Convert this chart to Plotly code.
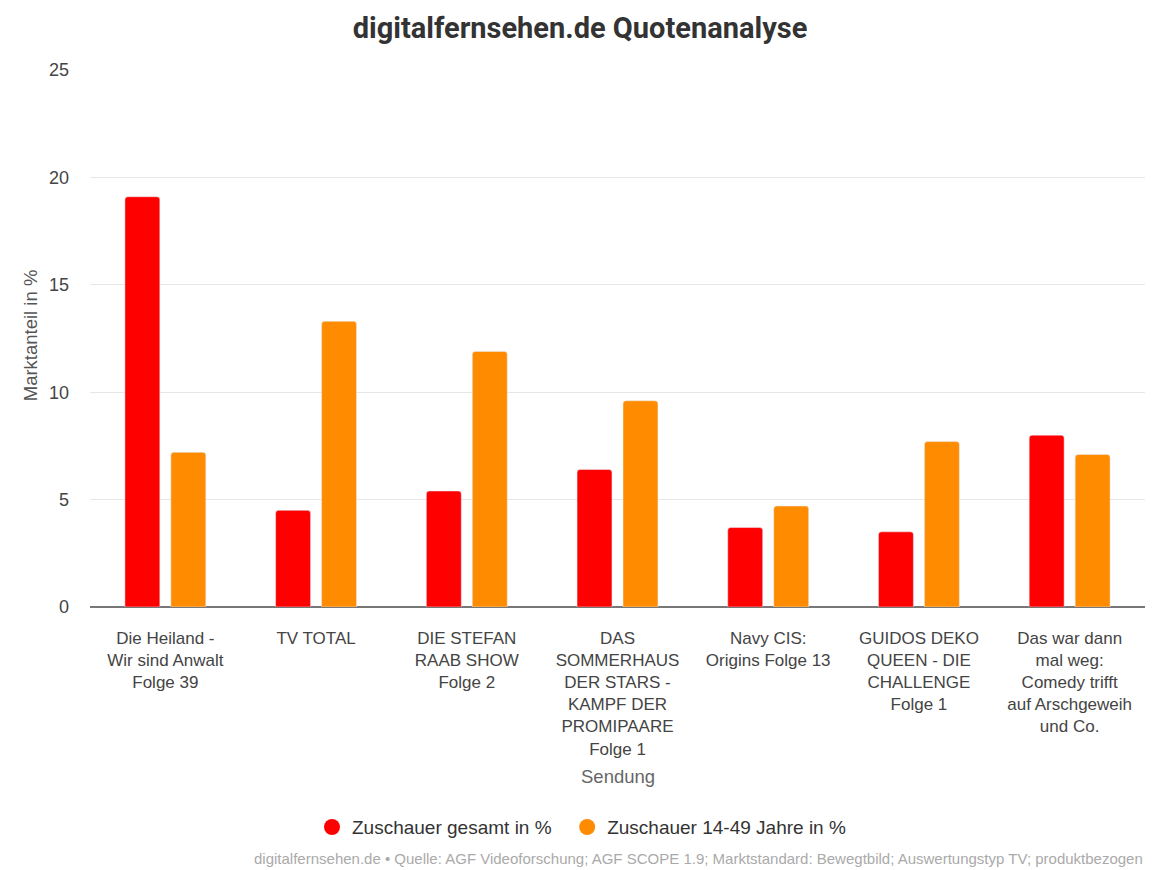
import plotly.graph_objects as go

categories = [
    "Die Heiland -<br>Wir sind Anwalt<br>Folge 39",
    "TV TOTAL",
    "DIE STEFAN<br>RAAB SHOW<br>Folge 2",
    "DAS<br>SOMMERHAUS<br>DER STARS -<br>KAMPF DER<br>PROMIPAARE<br>Folge 1",
    "Navy CIS:<br>Origins Folge 13",
    "GUIDOS DEKO<br>QUEEN - DIE<br>CHALLENGE<br>Folge 1",
    "Das war dann<br>mal weg:<br>Comedy trifft<br>auf Arschgeweih<br>und Co.",
]
gesamt = [19.1, 4.5, 5.4, 6.4, 3.7, 3.5, 8.0]
jahre_14_49 = [7.2, 13.3, 11.9, 9.6, 4.7, 7.7, 7.1]
series_names = ["Zuschauer gesamt in %", "Zuschauer 14-49 Jahre in %"]
y_ticks = [0, 5, 10, 15, 20, 25]

RED = "#ff0000"
ORANGE = "#ff8c00"
FONT = "Liberation Sans, Arial, sans-serif"

fig = go.Figure()
fig.add_trace(go.Bar(x=categories, y=gesamt, name=series_names[0],
                     marker=dict(color=RED), showlegend=False))
fig.add_trace(go.Bar(x=categories, y=jahre_14_49, name=series_names[1],
                     marker=dict(color=ORANGE), showlegend=False))
# legend entries with circle markers
for nm, col in zip(series_names, [RED, ORANGE]):
    fig.add_trace(go.Scatter(x=[None], y=[None], mode="markers", name=nm + "\u00a0\u00a0",
                             marker=dict(color=col, size=17, symbol="circle")))

fig.update_layout(
    width=1160, height=870,
    margin=dict(l=90, r=15, t=70, b=263),
    paper_bgcolor="white", plot_bgcolor="white",
    font=dict(family=FONT, size=17.5, color="#444"),
    title=dict(text="<b>digitalfernsehen.de Quotenanalyse</b>",
               x=0.5, xanchor="center", y=1 - 28 / 870, yanchor="middle",
               font=dict(family="Roboto, Arial, sans-serif", size=29, color="#333")),
    barmode="group", bargap=0.39, bargroupgap=0.24, barcornerradius=3,
    legend=dict(orientation="h", x=(312 - 90) / 1055, xanchor="left", y=-0.41, yanchor="middle",
                font=dict(size=19, color="#333"), itemwidth=30, tracegroupgap=0),
    showlegend=True,
)
fig.update_xaxes(showgrid=False, showline=False, ticks="", tickfont=dict(size=17, color="#444"),
                 ticklabelstandoff=19)
fig.update_yaxes(range=[0, 25], tickvals=y_ticks, showgrid=True, gridcolor="#e6e6e6",
                 gridwidth=1, zeroline=True, zerolinecolor="#777", zerolinewidth=2,
                 showline=False, ticks="", tickfont=dict(size=18, color="#444"),
                 ticklabelstandoff=20)

fig.add_annotation(text="Sendung", xref="paper", yref="paper", x=0.5, y=(606.7 - 776) / 536.7,
                   xanchor="center", yanchor="middle", showarrow=False,
                   font=dict(size=18.5, color="#666"))
fig.add_annotation(text="Marktanteil in %", xref="paper", yref="paper",
                   x=(30 - 90) / 1055, y=0.506, textangle=-90,
                   xanchor="center", yanchor="middle", showarrow=False,
                   font=dict(size=18.5, color="#555"))
fig.add_annotation(
    text="digitalfernsehen.de • Quelle: AGF Videoforschung; AGF SCOPE 1.9; Marktstandard: Bewegtbild; Auswertungstyp TV; produktbezogen",
    xref="paper", yref="paper", x=1, y=(606.7 - 858) / 536.7,
    xanchor="right", yanchor="middle", showarrow=False,
    font=dict(size=15, color="#aaa"))

fig.write_html("out.html")
